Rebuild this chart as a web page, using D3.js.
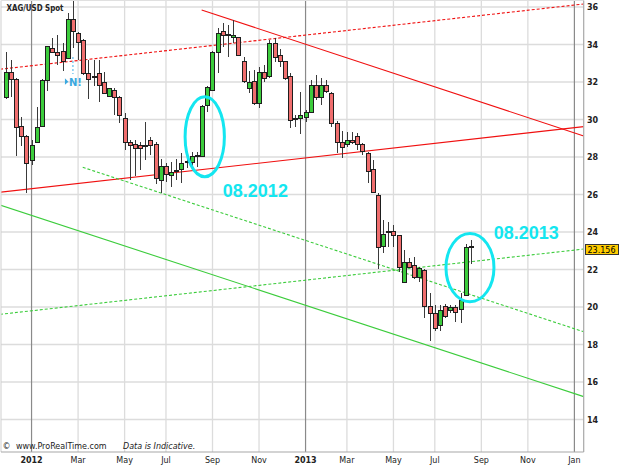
<!DOCTYPE html>
<html><head><meta charset="utf-8">
<script src="https://cdn.jsdelivr.net/npm/d3@7"></script>
<style>html,body{margin:0;padding:0;background:#fff;} svg{display:block;}</style>
</head><body>
<script>
// ---- DATA (weekly XAG/USD candles, first week starting 2011-11-28) ----
const firstWeek = "2011-11-28";
const openV  = [31.15,32.53,32.16,29.65,29.07,27.84,28.8,29.65,32.1,33.81,33.6,33.65,33.28,35.36,34.61,34.24,32.48,32.3,32.48,32.0,31.25,31.57,31.2,30.03,28.8,28.69,28.64,28.6,28.9,28.69,26.77,27.47,26.99,27.25,27.31,27.7,27.73,28.1,28.05,30.77,31.57,33.6,34.67,34.5,34.35,34.35,33.07,31.68,32.05,30.88,32.53,32.27,34.08,33.44,33.07,32.32,30.0,30.03,30.13,30.4,31.84,31.2,31.84,31.41,29.81,28.75,28.69,28.9,29.07,28.69,28.21,27.36,25.97,23.25,24.0,24.05,23.79,21.33,22.35,22.19,21.6,21.97,20.05,19.68,19.04,20.05,19.79,20.0,19.89,20.64,23.25];
const highV  = [33.6,33.17,32.2,30.13,29.17,28.9,30.67,32.15,33.9,34.35,34.5,34.08,35.68,37.2,34.67,34.28,33.17,33.2,33.17,32.53,31.65,31.68,31.25,30.35,28.9,28.9,28.8,29.87,29.07,28.8,27.9,27.7,27.73,27.9,28.2,28.27,28.27,28.27,30.77,31.8,33.65,34.88,35.15,35.04,35.3,34.4,33.33,32.59,32.64,32.8,32.9,34.24,34.35,33.76,33.1,32.48,30.24,31.47,30.5,32.1,32.37,32.21,32.1,31.47,29.9,29.39,29.33,29.33,29.28,28.75,28.27,27.84,26.08,24.64,24.53,24.37,23.8,23.04,22.61,22.67,22.13,22.03,20.75,20.11,20.11,20.16,20.11,20.11,20.75,23.36,23.57];
const lowV   = [31.1,31.2,28.05,28.59,26.08,27.6,28.75,29.6,31.52,33.55,32.9,32.6,33.28,33.8,33.17,32.4,31.09,31.8,30.93,31.4,31.2,30.24,29.81,28.37,26.77,27.0,27.3,27.84,28.1,26.56,26.08,26.67,26.4,26.77,26.6,27.41,27.47,27.47,28.0,30.4,31.5,32.48,33.87,33.33,34.08,33.4,31.95,31.41,30.77,30.61,32.0,32.2,33.07,32.8,32.1,29.55,29.6,29.23,29.87,30.35,31.04,30.77,31.4,29.6,28.21,27.95,28.53,28.7,28.37,28.1,26.61,26.08,22.03,22.88,23.2,23.2,21.87,21.28,22.08,21.49,21.33,19.41,18.19,18.72,18.72,19.41,19.68,19.2,19.15,20.6,22.29];
const closeV = [32.53,32.16,29.6,29.07,27.63,28.64,29.6,32.1,33.87,33.6,33.39,33.12,35.31,34.72,34.13,32.48,32.16,32.25,31.84,31.41,31.63,31.2,30.24,28.8,28.59,28.48,28.48,28.62,28.64,26.88,27.47,27.09,27.2,27.26,27.68,27.75,28.05,28.05,30.67,31.73,33.6,34.61,34.5,34.53,34.5,33.44,32.05,32.0,30.88,32.53,32.21,34.08,33.33,33.07,32.21,29.97,30.05,30.19,30.4,31.84,31.15,31.79,31.47,29.81,28.75,28.53,28.9,28.75,28.69,28.27,27.25,26.13,23.15,23.89,24.05,23.79,22.13,22.35,22.13,21.6,22.03,20.05,19.63,18.83,19.84,19.47,20.0,19.73,20.37,23.15,23.156];
const lastPrice = 23.156;
const yTicks = [14,16,18,20,22,24,26,28,30,32,34,36];
const xTickMonths = ["2012-01","2012-03","2012-05","2012-07","2012-09","2012-11","2013-01","2013-03","2013-05","2013-07","2013-09","2013-11","2014-01"];
const xTickLabels = ["2012","Mar","May","Jul","Sep","Nov","2013","Mar","May","Jul","Sep","Nov","Jan"];
const yearMonths = ["2012-01","2013-01","2014-01"];
// trendlines: [weekIndex1, price1, weekIndex2, price2]
const redSolidDown  = [37.9, 35.84, 111.8, 29.12];
const redSolidUp    = [-1.1, 26.12, 111.8, 29.62];
const redDottedUp   = [-1.1, 32.68, 111.8, 36.16];
const greenSolidDn  = [-1.1, 25.44, 111.8, 15.22];
const greenDottedDn = [14.9, 27.45, 111.8, 18.68];
const greenDottedUp = [-1.1, 19.61, 111.8, 23.09];
// circled moves: [centerWeek, centerPrice, radiusWeeks, radiusPrice]
const circles = [[38.5, 29.08, 3.8, 2.13], [89.8, 22.1, 4.64, 1.82]];
const notes = [["08.2012", 42.0, 25.87], ["08.2013", 94.4, 23.65]];
const newsMarkWeek = 13;

// ---- CHART ----
const W = 625, H = 469;
const plot = {left: 1, right: 583.7, top: 0.5, bottom: 452};
const svg = d3.select("body").append("svg").attr("width", W).attr("height", H)
  .style("font-family", "'DejaVu Sans', Verdana, sans-serif");
svg.append("rect").attr("width", W).attr("height", H).attr("fill", "#fff");

const x = d3.scaleLinear().domain([0, 90]).range([5.7, 471]);
const y = d3.scaleLinear().domain([14, 36]).range([419.5, 7]);

const start = d3.timeParse("%Y-%m-%d")(firstWeek);
const weekDates = d3.range(0, 114).map(i => d3.timeDay.offset(start, 7 * i));
const fmtM = d3.timeFormat("%Y-%m");
const firstWeekOfMonth = m => weekDates.findIndex(d => fmtM(d) === m);

svg.append("clipPath").attr("id", "clip").append("rect")
  .attr("x", plot.left).attr("y", plot.top)
  .attr("width", plot.right - plot.left).attr("height", plot.bottom - plot.top);

const g = svg.append("g").attr("clip-path", "url(#clip)");

// horizontal grid
g.selectAll(".hg").data(yTicks).join("line")
  .attr("x1", plot.left).attr("x2", plot.right)
  .attr("y1", d => y(d)).attr("y2", d => y(d))
  .attr("stroke", "#dcdcdc").attr("stroke-width", 1.3);
// vertical grid
g.selectAll(".vg").data(xTickMonths.filter(m => !yearMonths.includes(m))).join("line")
  .attr("x1", d => x(firstWeekOfMonth(d))).attr("x2", d => x(firstWeekOfMonth(d)))
  .attr("y1", plot.top).attr("y2", plot.bottom)
  .attr("stroke", "#dcdcdc").attr("stroke-width", 1.3);
g.selectAll(".yl").data(yearMonths).join("line")
  .attr("x1", d => x(firstWeekOfMonth(d))).attr("x2", d => x(firstWeekOfMonth(d)))
  .attr("y1", plot.top).attr("y2", plot.bottom)
  .attr("stroke", "#8a8a8a").attr("stroke-width", 1.2);

// trendlines
function tl(p, color, dash) {
  g.append("line").attr("x1", x(p[0])).attr("y1", y(p[1])).attr("x2", x(p[2])).attr("y2", y(p[3]))
    .attr("stroke", color).attr("stroke-width", 1.1).attr("stroke-dasharray", dash || null);
}
tl(redSolidDown, "#f01010");
tl(redSolidUp, "#f01010");
tl(redDottedUp, "#f01010", "3,2");
tl(greenSolidDn, "#3ccc3c");
tl(greenDottedDn, "#3ccc3c", "3,2");
tl(greenDottedUp, "#3ccc3c", "3,2");

// candles
const cg = g.append("g").attr("shape-rendering", "crispEdges");
const idx = d3.range(openV.length);
cg.selectAll(".wick").data(idx).join("line")
  .attr("x1", i => Math.round(x(i)) + 0.5).attr("x2", i => Math.round(x(i)) + 0.5)
  .attr("y1", i => y(highV[i])).attr("y2", i => y(lowV[i]))
  .attr("stroke", "#3a3a3a").attr("stroke-width", 1);
cg.selectAll(".body").data(idx).join("rect")
  .attr("x", i => Math.round(x(i)) - 1.5)
  .attr("width", 4)
  .attr("y", i => y(Math.max(openV[i], closeV[i])))
  .attr("height", i => Math.max(1, Math.abs(y(openV[i]) - y(closeV[i]))))
  .attr("fill", i => closeV[i] >= openV[i] ? "#3ccc3c" : "#f06e6e")
  .attr("stroke", "#1e1e1e").attr("stroke-width", 1);

// circles
g.selectAll(".circ").data(circles).join("ellipse")
  .attr("cx", d => x(d[0])).attr("cy", d => y(d[1]))
  .attr("rx", d => x(d[2]) - x(0)).attr("ry", d => y(0) - y(d[3]))
  .attr("fill", "none").attr("stroke", "#14e6f0").attr("stroke-width", 3);

// notes
g.selectAll(".note").data(notes).join("text")
  .attr("x", d => x(d[1])).attr("y", d => y(d[2]))
  .attr("font-family", "'Liberation Sans', Arial, sans-serif")
  .attr("font-weight", "bold").attr("font-size", 18).attr("fill", "#14e6f0")
  .text(d => d[0]);

// news marker
const nx = x(newsMarkWeek);
g.append("line").attr("x1", nx).attr("x2", nx).attr("y1", y(33.33)).attr("y2", y(32.43))
  .attr("stroke", "#7cc8f0").attr("stroke-width", 1.5).attr("stroke-dasharray", "2,2");
g.append("path").attr("d", `M${nx-8},${y(32.2)} L${nx-8},${y(31.85)} L${nx-4.5},${y(32.02)} Z`).attr("fill", "#3aa8e0");
g.append("text").attr("x", nx - 4).attr("y", y(31.79)).attr("font-size", 10).attr("font-weight", "bold")
  .attr("fill", "#3aa8e0").text("N!");

// frame
svg.append("line").attr("x1", plot.left).attr("x2", plot.left).attr("y1", plot.top).attr("y2", plot.bottom).attr("stroke", "#cfcfcf");
svg.append("line").attr("x1", plot.left).attr("x2", plot.right).attr("y1", plot.top).attr("y2", plot.top).attr("stroke", "#e0e0e0");
svg.append("line").attr("x1", plot.left).attr("x2", plot.right).attr("y1", plot.bottom).attr("y2", plot.bottom).attr("stroke", "#a8a8a8").attr("stroke-width", 1.2);
svg.append("line").attr("x1", plot.right).attr("x2", plot.right).attr("y1", plot.top).attr("y2", plot.bottom).attr("stroke", "#a8a8a8").attr("stroke-width", 1.2);

// y axis labels
svg.selectAll(".yt").data(yTicks).join("text")
  .attr("x", 587).attr("y", d => y(d) + 3)
  .attr("font-size", 8).attr("font-weight", "bold").attr("fill", "#222")
  .text(d => d);

// x axis labels
svg.selectAll(".xt").data(xTickMonths).join("text")
  .attr("x", d => x(firstWeekOfMonth(d))).attr("y", 463)
  .attr("text-anchor", "middle").attr("font-size", 8)
  .attr("font-weight", (d, i) => /^\d{4}$/.test(xTickLabels[i]) ? "bold" : "normal")
  .attr("fill", "#222")
  .text((d, i) => xTickLabels[i]);

// last price tag
const ly = y(lastPrice);
svg.append("rect").attr("x", 585.5).attr("y", Math.round(ly) - 3.5).attr("width", 33).attr("height", 10)
  .attr("fill", "#ffcc00").attr("stroke", "#333").attr("stroke-width", 1);
svg.append("text").attr("x", 587.5).attr("y", Math.round(ly) + 5).attr("font-size", 8).attr("fill", "#000")
  .text(lastPrice.toFixed(3));

// title and footer
svg.append("text").attr("x", 6.5).attr("y", 11).attr("font-size", 8).attr("font-weight", "bold")
  .attr("fill", "#222").attr("textLength", 57).attr("lengthAdjust", "spacingAndGlyphs").text("XAG/USD Spot");
svg.append("text").attr("x", 2.5).attr("y", 449).attr("font-size", 8).attr("fill", "#222").text("©");
svg.append("text").attr("x", 16).attr("y", 449).attr("font-size", 8).attr("fill", "#222").text("www.ProRealTime.com");
svg.append("text").attr("x", 123).attr("y", 449).attr("font-size", 8).attr("font-style", "italic").attr("fill", "#222").text("Data is Indicative.");
</script>
</body></html>
